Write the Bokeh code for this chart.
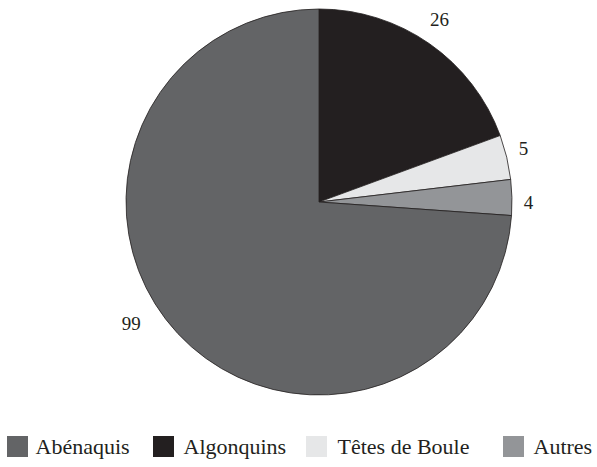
import math
from bokeh.plotting import figure
from bokeh.models import Range1d, ColumnDataSource
from bokeh.embed import file_html
from bokeh.resources import INLINE
from bokeh.core.properties import value

# ---- data ----
categories = ["Abénaquis", "Algonquins", "Têtes de Boule", "Autres"]
counts = [99, 26, 5, 4]
colors = ["#636466", "#231f20", "#e6e7e8", "#939598"]
pie_order = [1, 2, 3, 0]          # clockwise from 12 o'clock
label_r = [1.16, 1.133, 1.095, 1.085]   # label radius factor per category
label_nudge = [10.0, -1.5, -1.3, 1.5]   # label angle nudge (deg) per category

W, H = 597, 467
FONT = "Liberation Serif"

p = figure(width=W, height=H, output_backend="svg", toolbar_location=None,
           x_range=Range1d(0, W), y_range=Range1d(0, H), min_border=0)
p.axis.visible = False
p.grid.visible = False
p.outline_line_color = None
p.background_fill_color = "white"
p.border_fill_color = "white"

cx, cy, R = 318.5, H - 201.5, 193
total = float(sum(counts))

starts, ends, cols, lx, ly, lt = [], [], [], [], [], []
cum = 0.0
for i in pie_order:
    a0 = cum / total * 2 * math.pi
    cum += counts[i]
    a1 = cum / total * 2 * math.pi
    starts.append(math.pi / 2 - a0)
    ends.append(math.pi / 2 - a1)
    cols.append(colors[i])
    mid = (a0 + a1) / 2 + math.radians(label_nudge[i])
    r = R * label_r[i]
    lx.append(cx + r * math.sin(mid))
    ly.append(cy + r * math.cos(mid))
    lt.append(str(counts[i]))

src = ColumnDataSource(dict(x=[cx] * 4, y=[cy] * 4, s=starts, e=ends, c=cols))
p.wedge(x="x", y="y", radius=R, start_angle="s", end_angle="e", direction="clock",
        fill_color="c", line_color="#231f20", line_width=0.8, source=src)

p.text(x=lx, y=ly, text=lt, text_font=value(FONT), text_font_size="19px",
       text_align="center", text_baseline="middle", text_color="#231f20")

# legend
leg_sq_x = [17, 163, 316, 513]
leg_txt_x = [35, 183, 337, 533]
p.rect(x=leg_sq_x, y=[H - 446] * 4, width=21, height=21,
       fill_color=colors, line_color=None)
p.text(x=leg_txt_x, y=[H - 446] * 4, text=categories, text_font=value(FONT),
       text_font_size="22px", text_align="left", text_baseline="middle",
       text_color="#231f20")

open("out.html", "w").write(file_html(p, INLINE))
